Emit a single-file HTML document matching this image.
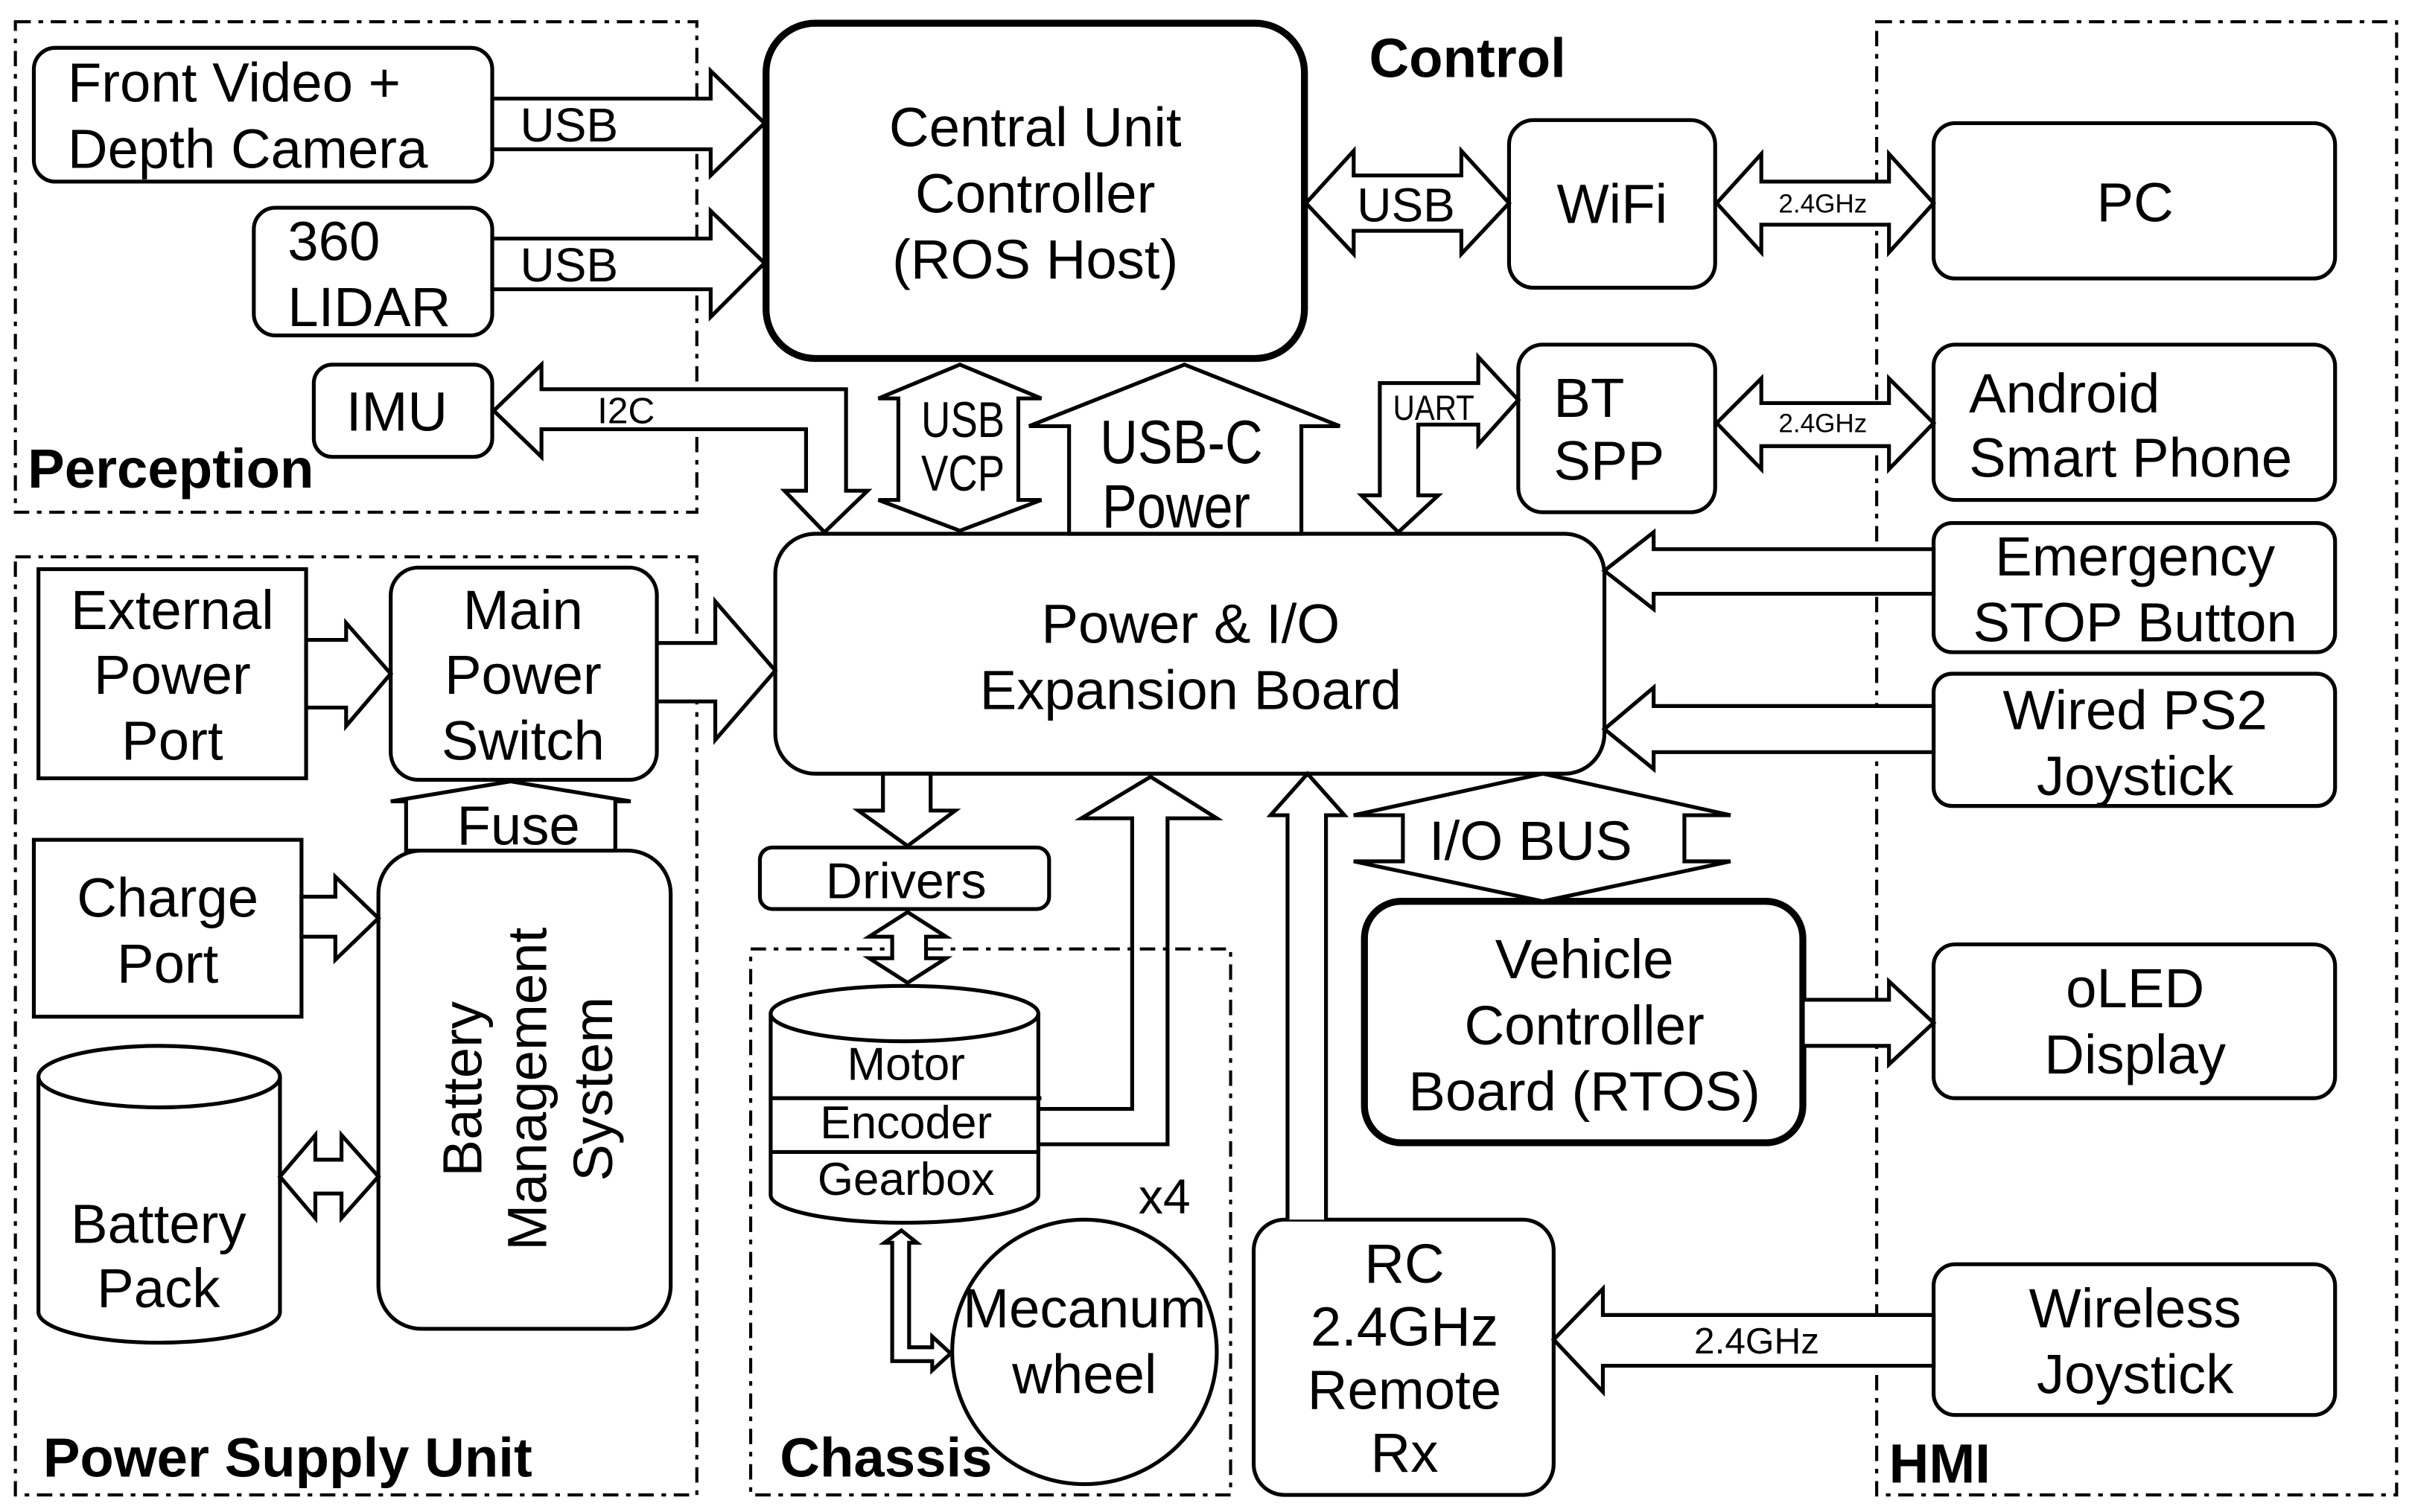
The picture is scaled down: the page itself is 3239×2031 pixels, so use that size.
<!DOCTYPE html>
<html><head><meta charset="utf-8"><style>html,body{margin:0;padding:0;background:#fff}svg{display:block}</style></head>
<body>
<svg width="3239" height="2031" viewBox="0 0 1568 983" xmlns="http://www.w3.org/2000/svg" font-family="Liberation Sans, sans-serif" text-anchor="middle">
<g fill="none" stroke="#000" stroke-width="2" stroke-dasharray="10 5 3 5">
<rect x="10" y="14" width="443" height="319"/>
<rect x="10" y="362" width="443" height="610"/>
<rect x="488" y="617" width="312" height="355"/>
<rect x="1220" y="14" width="338" height="958"/>
</g>
<g fill="#fff" stroke="#000" stroke-width="2.5">
<rect x="22" y="31" width="298" height="87" rx="14"/>
<rect x="165" y="135" width="155" height="83" rx="14"/>
<rect x="204" y="237" width="116" height="60" rx="12"/>
<rect x="498" y="15" width="350" height="218" rx="32" stroke-width="4.5"/>
<rect x="981" y="78" width="134" height="109" rx="16"/>
<rect x="1257" y="80" width="261" height="101" rx="14"/>
<rect x="987" y="224" width="128" height="109" rx="16"/>
<rect x="1257" y="224" width="261" height="101" rx="14"/>
<rect x="504" y="347" width="539" height="156" rx="26"/>
<rect x="1257" y="340" width="261" height="84" rx="12"/>
<rect x="1257" y="438" width="261" height="86" rx="12"/>
<rect x="25" y="370" width="174" height="136"/>
<rect x="254" y="369" width="173" height="138" rx="18"/>
<rect x="22" y="546" width="174" height="115"/>
<rect x="246" y="553" width="190" height="311" rx="28"/>
<rect x="494" y="551" width="188" height="40" rx="8"/>
<rect x="887" y="586" width="285" height="157" rx="24" stroke-width="4.5"/>
<rect x="1257" y="614" width="261" height="100" rx="14"/>
<rect x="815" y="793" width="195" height="179" rx="20"/>
<rect x="1257" y="822" width="261" height="98" rx="14"/>
<circle cx="705" cy="879" r="86"/>
<path d="M25,700 L25,853 A78.5,20 0 0 0 182,853 L182,700"/>
<ellipse cx="103.5" cy="700" rx="78.5" ry="20"/>
<path d="M501,659 L501,777 A87,18 0 0 0 675,777 L675,659"/>
<ellipse cx="588" cy="659" rx="87" ry="18"/>
<path d="M501,714 L677,714 M501,749 L675,749" fill="none"/>
</g>
<g fill="#fff" stroke="#000" stroke-width="2.5" stroke-linejoin="miter">
<polygon points="320,64 462,64 462,46 497,80 462,114 462,97 320,97"/>
<polygon points="320,155 462,155 462,137 497,171 462,206 462,188 320,188"/>
<polygon points="321,267 352,237 352,253 550,253 550,319 564,319 536,346 510,319 524,319 524,279 352,279 352,297"/>
<polygon points="624,237 677,259 662,259 662,325 677,325 624,345 571,325 584,325 584,259 571,259"/>
<polygon points="770,237 871,277 846,277 846,347 695,347 695,277 669,277"/>
<polygon points="849,132 880,98 880,114 950,114 950,98 981,132 950,165 950,150 880,150 880,165"/>
<polygon points="1116,132 1145,100 1145,118 1228,118 1228,100 1257,132 1228,164 1228,146 1145,146 1145,164"/>
<polygon points="909,346 935,322 922,322 922,276 961,276 961,289 987,260 961,232 961,249 897,249 897,322 885,322"/>
<polygon points="1116,275 1145,246 1145,262 1228,262 1228,246 1257,275 1228,305 1228,290 1145,290 1145,305"/>
<polygon points="1043,371 1075,346 1075,357 1257,357 1257,386 1075,386 1075,396"/>
<polygon points="1043,474 1075,447 1075,459 1257,459 1257,489 1075,489 1075,500"/>
<polygon points="199,416 225,416 225,405 254,438 225,472 225,460 199,460"/>
<polygon points="427,418 465,418 465,391 504,436 465,481 465,456 427,456"/>
<polygon points="196,583 218,583 218,570 246,597 218,624 218,609 196,609"/>
<polygon points="182,765 205,738 205,754 222,754 222,738 246,765 222,792 222,776 205,776 205,792"/>
<polygon points="264,553 264,521 254,521 332,508 410,521 400,521 400,553"/>
<polygon points="574,503 605,503 605,527 621,527 590,550 558,527 574,527"/>
<polygon points="590,593 615,609 602,609 602,623 615,623 590,639 565,623 580,623 580,609 565,609"/>
<polyline fill="none" points="676,721 736,721 736,532 703,532 748,505 791,532 759,532 759,744 676,744"/>
<polyline points="837,793 837,530 826,530 850,503 874,530 862,530 862,793"/>
<polygon points="1003,503 1125,530 1095,530 1095,560 1125,560 1003,586 880,560 912,560 912,530 880,530"/>
<polygon points="1172,650 1228,650 1228,638 1257,665 1228,692 1228,680 1172,680"/>
<polygon points="1010,871 1042,838 1042,855 1257,855 1257,888 1042,888 1042,905"/>
<polygon points="586,800 596,808 591,808 591,876 606,876 606,869 618,880 606,891 606,885 580,885 580,808 575,808"/>
</g>
<g font-size="36" fill="#000">
<text x="44" y="66" text-anchor="start">Front Video +</text>
<text x="44" y="109" text-anchor="start">Depth Camera</text>
<text x="187" y="169" text-anchor="start">360</text>
<text x="187" y="212" text-anchor="start">LIDAR</text>
<text x="258" y="280">IMU</text>
<text x="673" y="95">Central Unit</text>
<text x="673" y="138">Controller</text>
<text x="673" y="181">(ROS Host)</text>
<text x="1048" y="145">WiFi</text>
<text x="1388" y="144">PC</text>
<text x="1010" y="271" text-anchor="start">BT</text>
<text x="1010" y="312" text-anchor="start">SPP</text>
<text x="1280" y="268" text-anchor="start">Android</text>
<text x="1280" y="310" text-anchor="start">Smart Phone</text>
<text x="774" y="418">Power &amp; I/O</text>
<text x="774" y="461">Expansion Board</text>
<text x="1388" y="374">Emergency</text>
<text x="1388" y="417">STOP Button</text>
<text x="1388" y="474">Wired PS2</text>
<text x="1388" y="517">Joystick</text>
<text x="112" y="409">External</text>
<text x="112" y="451">Power</text>
<text x="112" y="494">Port</text>
<text x="340" y="409">Main</text>
<text x="340" y="451">Power</text>
<text x="340" y="494">Switch</text>
<text x="337" y="549">Fuse</text>
<text x="109" y="596">Charge</text>
<text x="109" y="639">Port</text>
<text x="103" y="808">Battery</text>
<text x="103" y="850">Pack</text>
<text x="589" y="584" font-size="33">Drivers</text>
<text x="589" y="702" font-size="30">Motor</text>
<text x="589" y="740" font-size="30">Encoder</text>
<text x="589" y="777" font-size="30">Gearbox</text>
<text x="757" y="789" font-size="32">x4</text>
<text x="705" y="863">Mecanum</text>
<text x="705" y="906">wheel</text>
<text x="1030" y="636">Vehicle</text>
<text x="1030" y="679">Controller</text>
<text x="1030" y="722">Board (RTOS)</text>
<text x="1388" y="655">oLED</text>
<text x="1388" y="698">Display</text>
<text x="913" y="834">RC</text>
<text x="913" y="875">2.4GHz</text>
<text x="913" y="916">Remote</text>
<text x="913" y="957">Rx</text>
<text x="1388" y="863">Wireless</text>
<text x="1388" y="906">Joystick</text>
<text x="995" y="559">I/O BUS</text>
<text x="370" y="92" font-size="31">USB</text>
<text x="370" y="183" font-size="31">USB</text>
<text x="914" y="144" font-size="31">USB</text>
<text x="407" y="275" font-size="24">I2C</text>
<text x="932" y="273" font-size="23" transform="translate(932 0) scale(0.85 1) translate(-932 0)">UART</text>
<text x="1185" y="138" font-size="17">2.4GHz</text>
<text x="1185" y="281" font-size="17">2.4GHz</text>
<text x="1142" y="880" font-size="24">2.4GHz</text>
<g transform="translate(626 0) scale(0.8 1) translate(-626 0)" font-size="33">
<text x="626" y="284">USB</text>
<text x="626" y="319">VCP</text>
</g>
<g transform="translate(768 0) scale(0.85 1) translate(-768 0)" font-size="40">
<text x="768" y="301">USB-C</text>
<text x="764" y="343">Power</text>
</g>
<text transform="translate(313 708) rotate(-90)">Battery</text>
<text transform="translate(355 708) rotate(-90)">Management</text>
<text transform="translate(398 708) rotate(-90)">System</text>
</g>
<g font-size="36" font-weight="bold" text-anchor="start">
<text x="890" y="50">Control</text>
<text x="18" y="317">Perception</text>
<text x="28" y="960">Power Supply Unit</text>
<text x="507" y="960">Chassis</text>
<text x="1228" y="964">HMI</text>
</g>
</svg>
</body></html>
